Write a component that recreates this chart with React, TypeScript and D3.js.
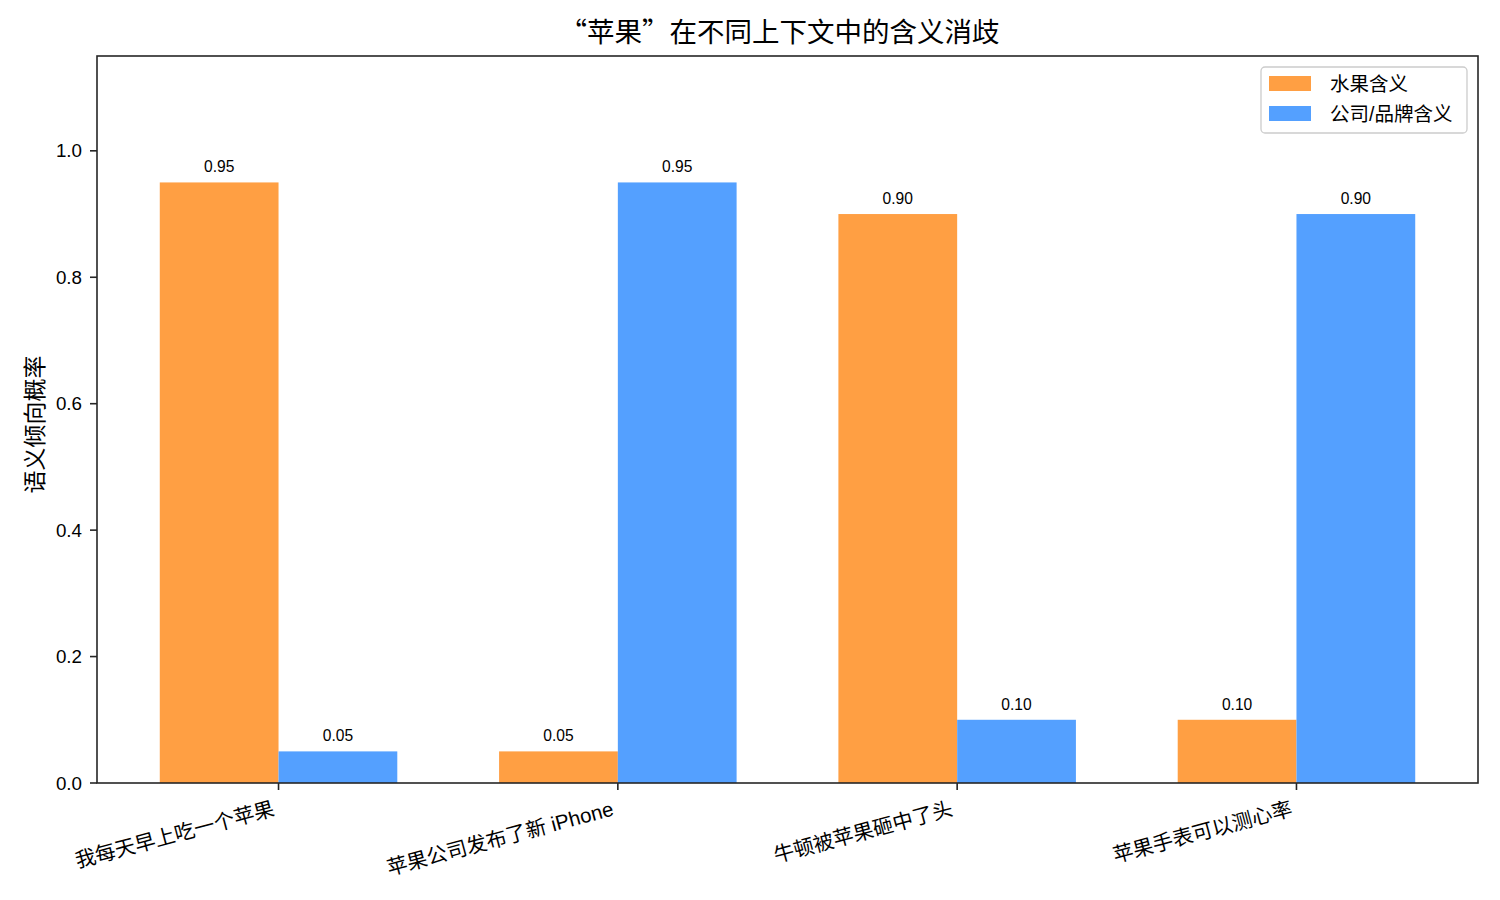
import * as d3 from "d3";

const sentences = ["我每天早上吃一个苹果", "苹果公司发布了新 iPhone", "牛顿被苹果砸中了头", "苹果手表可以测心率"];
const fruitValues = [0.95, 0.05, 0.9, 0.1];
const companyValues = [0.05, 0.95, 0.1, 0.9];
const seriesNames = ["水果含义", "公司/品牌含义"];
const seriesColors = ["#ff9f43", "#54a0ff"];
const yTicks = [0, 0.2, 0.4, 0.6, 0.8, 1.0];

const W = 1500;
const H = 900;
const left = 97, right = 1478, top = 56, bottom = 783;
const barWidth = 0.35;
const latin = "'Liberation Sans', Arial, 'Noto Sans CJK SC', sans-serif";
const cjk = "'Noto Sans CJK SC', 'Liberation Sans', sans-serif";
const axisColor = "#262626";

export default function App() {
    const x = d3.scaleLinear().domain([-0.535, 3.535]).range([left, right]);
    const y = d3.scaleLinear().domain([0, 1.15]).range([bottom, top]);
    const bw = x(barWidth) - x(0);

    const series = [fruitValues, companyValues];

    return <svg width={W} height={H} style={{position: "absolute", left: 0, top: 0, background: "#fff"}}>
        <rect x={0} y={0} width={W} height={H} fill="#fff"/>
        {/* bars */}
        {series.map((vals, s) => (
            <g key={s} fill={seriesColors[s]}>
                {vals.map((v, i) => {
                    const x0 = s === 0 ? x(i) - bw : x(i);
                    return <rect key={i} x={x0} y={y(v)} width={bw} height={y(0) - y(v)}/>;
                })}
            </g>
        ))}
        {/* value labels */}
        {series.map((vals, s) => (
            <g key={"l" + s} fontFamily={latin} fontSize={15.6} textAnchor="middle" fill="#000">
                {vals.map((v, i) => {
                    const cx = s === 0 ? x(i) - bw / 2 : x(i) + bw / 2;
                    return <text key={i} x={cx} y={y(v) - 10}>{d3.format(".2f")(v)}</text>;
                })}
            </g>
        ))}
        {/* frame */}
        <rect x={left} y={top} width={right - left} height={bottom - top} fill="none" stroke={axisColor} strokeWidth={1.6}/>
        {/* y axis */}
        <g fontFamily={latin} fontSize={18.75} fill="#000">
            {yTicks.map(t => (
                <g key={t}>
                    <line x1={left - 7} x2={left} y1={y(t)} y2={y(t)} stroke={axisColor} strokeWidth={1.6}/>
                    <text x={left - 15} y={y(t)} textAnchor="end" dominantBaseline="central">{d3.format(".1f")(t)}</text>
                </g>
            ))}
        </g>
        <text transform={`translate(33,${(top + bottom) / 2 + 5}) rotate(-90)`} textAnchor="middle" dominantBaseline="central"
              fontFamily={cjk} fontSize={23} fill="#000">语义倾向概率</text>
        {/* x axis */}
        <g fontFamily={latin} fontSize={20.5} fill="#000">
            {sentences.map((s, i) => (
                <g key={i}>
                    <line x1={x(i)} x2={x(i)} y1={bottom} y2={bottom + 7} stroke={axisColor} strokeWidth={1.6}/>
                    <text transform={`translate(${x(i) - 3},${bottom + 32}) rotate(-15)`} textAnchor="end">{s}</text>
                </g>
            ))}
        </g>
        {/* title */}
        <text x={(left + right) / 2 - 8} y={42} textAnchor="middle" fontFamily={cjk} fontSize={27.5} fill="#000">“苹果”在不同上下文中的含义消歧</text>
        {/* legend */}
        <g>
            <rect x={1261} y={67} width={206} height={66} rx={4} fill="#fff" fillOpacity={0.8} stroke="#cccccc" strokeWidth={1.3}/>
            {seriesNames.map((n, i) => (
                <g key={n}>
                    <rect x={1269} y={76 + i * 30} width={42} height={15} fill={seriesColors[i]}/>
                    <text x={1330} y={83.5 + i * 30} dominantBaseline="central" fontFamily={latin} fontSize={19.5} fill="#000">{n}</text>
                </g>
            ))}
        </g>
    </svg>;
}
